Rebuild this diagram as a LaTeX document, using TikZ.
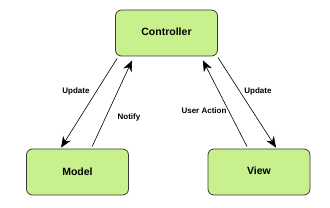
\documentclass[tikz,border=0pt]{standalone}
\usepackage{fontspec}
\setmainfont{Liberation Sans}
\usetikzlibrary{arrows.meta}
\definecolor{boxgreen}{HTML}{C8F08C}
\definecolor{boxline}{HTML}{3A3A3A}
\tikzset{
  mvcbox/.style={draw=boxline, line width=0.8pt, fill=boxgreen, rounded corners=6pt,
    minimum width=102pt, minimum height=46pt, inner sep=0pt,
    font=\fontsize{10.5}{12}\selectfont\bfseries},
  link/.style={line width=0.6pt, -{Stealth[length=11pt,width=9pt]}},
  lbl/.style={font=\fontsize{8}{9}\selectfont\bfseries, inner sep=0pt}
}
\begin{document}
\begin{tikzpicture}[x=1pt,y=-1pt]
\fill[white] (0,0) rectangle (330,208);
\useasboundingbox (0,0) rectangle (330,208);
\node[mvcbox] (ctrl) at (166.5,33) {\raisebox{3pt}{Controller}};
\node[mvcbox] (model) at (77.5,172) {\raisebox{-1pt}{Model}};
\node[mvcbox] (view) at (259,172) {\raisebox{3pt}{View}};
\draw[link] ([xshift=2pt,yshift=-2pt]ctrl.south west) -- ([xshift=35pt,yshift=1pt]model.north west);
\draw[link] ([xshift=66pt,yshift=2pt]model.north west) -- ([xshift=17pt,yshift=-4pt]ctrl.south west);
\draw[link] ([xshift=-12pt,yshift=2pt]view.north) -- ([xshift=-15pt,yshift=-4pt]ctrl.south east);
\draw[link] ([xshift=0pt,yshift=-1pt]ctrl.south east) -- ([xshift=17pt,yshift=1pt]view.north);
\node[lbl] (l1) at (76,91) {Update};
\node[lbl] (l2) at (129,117) {Notify};
\node[lbl] (l3) at (204,111) {User Action};
\node[lbl] (l4) at (258,91) {Update};
\end{tikzpicture}
\end{document}
